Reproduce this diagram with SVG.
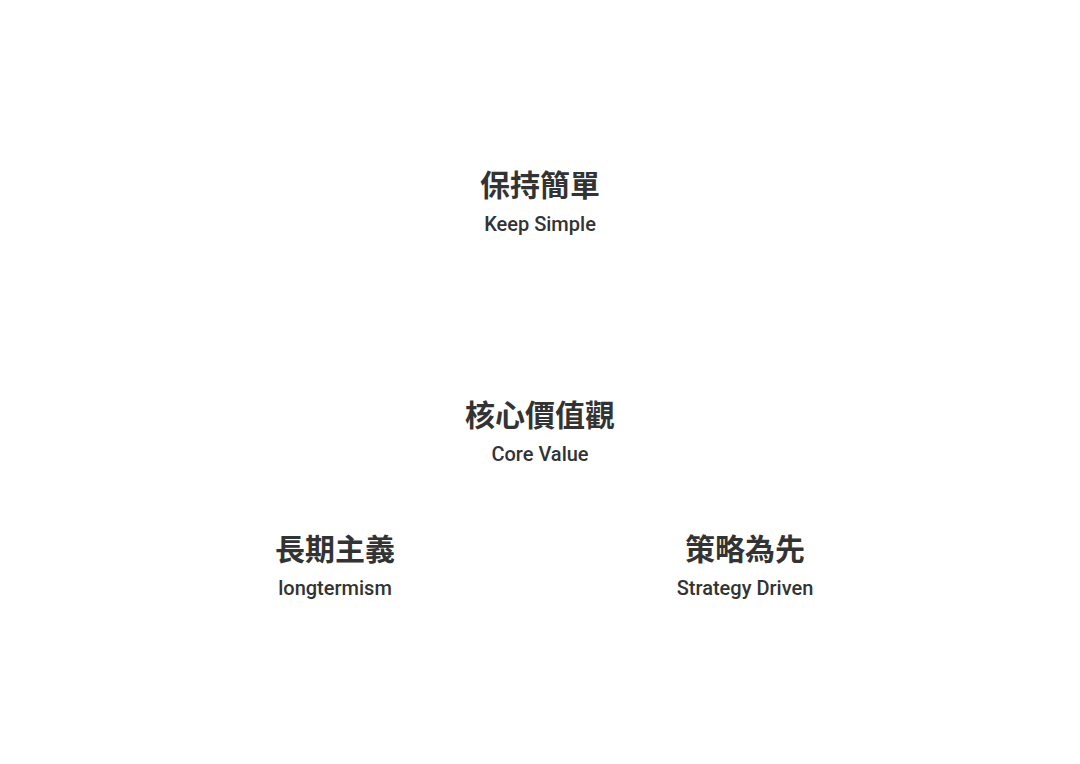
<svg xmlns="http://www.w3.org/2000/svg" width="1080" height="764" viewBox="0 0 1080 764">
<style>
.zh{font-family:"Noto Sans CJK TC","Noto Sans CJK SC",sans-serif;font-size:30px;font-weight:700;fill:#333333;text-anchor:middle}
.en{font-family:Roboto,"Liberation Sans",sans-serif;font-size:20px;font-weight:500;fill:#333333;text-anchor:middle}
</style>
<rect width="1080" height="764" fill="#ffffff"/>
<g id="connectors"></g>
<g id="node-keep-simple">
<text class="zh" x="540" y="196">保持簡單</text>
<text class="en" x="540" y="231">Keep Simple</text>
</g>
<g id="node-core-value">
<text class="zh" x="540" y="426">核心價值觀</text>
<text class="en" x="540" y="461">Core Value</text>
</g>
<g id="node-longtermism">
<text class="zh" x="335" y="560">長期主義</text>
<text class="en" x="335" y="595">longtermism</text>
</g>
<g id="node-strategy-driven">
<text class="zh" x="745" y="560">策略為先</text>
<text class="en" x="745" y="595">Strategy Driven</text>
</g>
</svg>
